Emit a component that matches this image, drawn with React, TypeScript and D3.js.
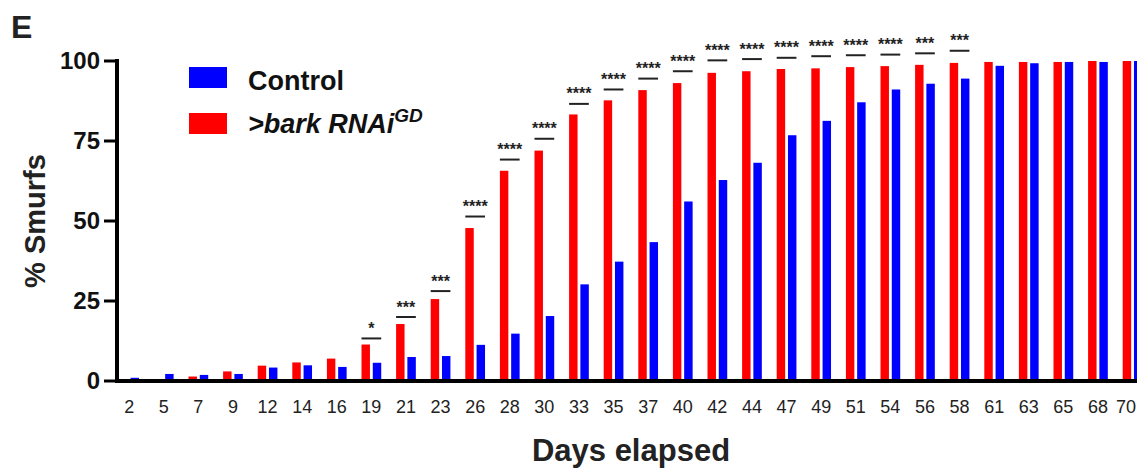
import React from "react";
import * as d3 from "d3";

const days = [2, 5, 7, 9, 12, 14, 16, 19, 21, 23, 26, 28, 30, 33, 35, 37, 40, 42, 44, 47, 49, 51, 54, 56, 58, 61, 63, 65, 68, 70];
const barkRNAi = [0, 0.6, 1.4, 3.0, 4.8, 5.8, 7.0, 11.4, 17.8, 25.6, 47.8, 65.7, 72.0, 83.3, 87.7, 90.9, 93.1, 96.3, 96.8, 97.5, 97.7, 98.1, 98.4, 98.8, 99.4, 99.7, 99.7, 99.7, 100, 100];
const control = [1.0, 2.2, 1.9, 2.2, 4.2, 4.9, 4.4, 5.7, 7.5, 7.8, 11.3, 14.8, 20.3, 30.2, 37.3, 43.4, 56.1, 62.8, 68.2, 76.8, 81.3, 87.1, 91.1, 92.9, 94.5, 98.5, 99.3, 99.7, 99.7, 100];
const sigDays = [19, 21, 23, 26, 28, 30, 33, 35, 37, 40, 42, 44, 47, 49, 51, 54, 56, 58];
const sigLabels = ["*", "***", "***", "****", "****", "****", "****", "****", "****", "****", "****", "****", "****", "****", "****", "****", "***", "***"];
const sigLevels = [13.3, 20.0, 28.1, 51.4, 69.2, 75.7, 86.6, 91.1, 94.5, 96.8, 100.2, 100.6, 101.0, 101.5, 101.8, 102.0, 102.4, 103.2];
const yTicks = [0, 25, 50, 75, 100];
const seriesKeys = ["bark", "control"];
const seriesColors = ["#ff0000", "#0000ff"];

const FONT = "'Liberation Sans', Arial, Helvetica, sans-serif";

export default function App() {
  const W = 1137;
  const H = 473;
  const step = 34.6;
  const pIn = 0.43;
  const x0Start = 119.3;
  const x0 = d3
    .scaleBand<string>()
    .domain(days.map(String))
    .range([x0Start, x0Start + step * (days.length - pIn)])
    .paddingInner(pIn)
    .paddingOuter(0)
    .align(0);
  const x1 = d3.scaleBand<string>().domain(seriesKeys).range([0, x0.bandwidth()]).paddingInner(0.25);
  const y = d3.scaleLinear().domain([0, 100]).range([381, 61]);
  const color = d3.scaleOrdinal<string, string>().domain(seriesKeys).range(seriesColors);

  const axisX = 117;

  return (
    <svg width={W} height={H} style={{ position: "absolute", left: 0, top: 0, background: "#fff" }} fontFamily={FONT}>
      <rect x={0} y={0} width={W} height={H} fill="#fff" />
      {/* panel letter */}
      <text x={11} y={38} fontSize={32} fontWeight="bold" fill="#222">E</text>

      {/* bars */}
      {days.map((d, i) => {
        const gx = x0(String(d))!;
        const vals = [barkRNAi[i], control[i]];
        return (
          <g key={d} transform={`translate(${gx},0)`}>
            {seriesKeys.map((k, j) => (
              <rect
                key={k}
                x={x1(k)!}
                y={y(vals[j])}
                width={x1.bandwidth()}
                height={y(0) - y(vals[j])}
                fill={color(k)}
              />
            ))}
          </g>
        );
      })}

      {/* significance */}
      {sigDays.map((d, i) => {
        const gx = x0(String(d))!;
        const ly = y(sigLevels[i]);
        return (
          <g key={"s" + d}>
            <line x1={gx} x2={gx + x0.bandwidth()} y1={ly} y2={ly} stroke="#222" strokeWidth={2} />
            <text x={gx + x0.bandwidth() / 2} y={ly - 4.5} textAnchor="middle" fontSize={16} fontWeight="bold" fill="#222">
              {sigLabels[i]}
            </text>
          </g>
        );
      })}

      {/* axes */}
      <line x1={axisX} x2={axisX} y1={59} y2={383} stroke="#000" strokeWidth={4} />
      <line x1={115} x2={W} y1={y(0)} y2={y(0)} stroke="#000" strokeWidth={4} />
      {yTicks.map((t) => (
        <g key={"yt" + t}>
          <line x1={104} x2={axisX} y1={y(t)} y2={y(t)} stroke="#000" strokeWidth={3} />
          <text x={100} y={y(t)} dy="0.35em" textAnchor="end" fontSize={24} fontWeight="bold" fill="#111">
            {t}
          </text>
        </g>
      ))}
      {days.map((d) => (
        <text
          key={"xl" + d}
          x={Math.min(x0(String(d))! + x0.bandwidth() / 2, W - 11)}
          y={413}
          textAnchor="middle"
          fontSize={18}
          fill="#222"
        >
          {d}
        </text>
      ))}

      {/* axis titles */}
      <text x={631} y={461} textAnchor="middle" fontSize={31} fontWeight="bold" fill="#222">
        Days elapsed
      </text>
      <text
        transform={`translate(45,${y(50)}) rotate(-90)`}
        textAnchor="middle"
        fontSize={29}
        fontWeight="bold"
        fill="#222"
      >
        % Smurfs
      </text>

      {/* legend */}
      <rect x={189} y={67} width={38} height={21} fill={seriesColors[1]} />
      <text x={248} y={90} fontSize={27} fontWeight="bold" fill="#111">Control</text>
      <rect x={189} y={113} width={38} height={21} fill={seriesColors[0]} />
      <text x={248} y={133} fontSize={27} fontWeight="bold" fontStyle="italic" fill="#111">
        {">bark RNAi"}
        <tspan fontSize={19} dy={-11}>GD</tspan>
      </text>
    </svg>
  );
}
